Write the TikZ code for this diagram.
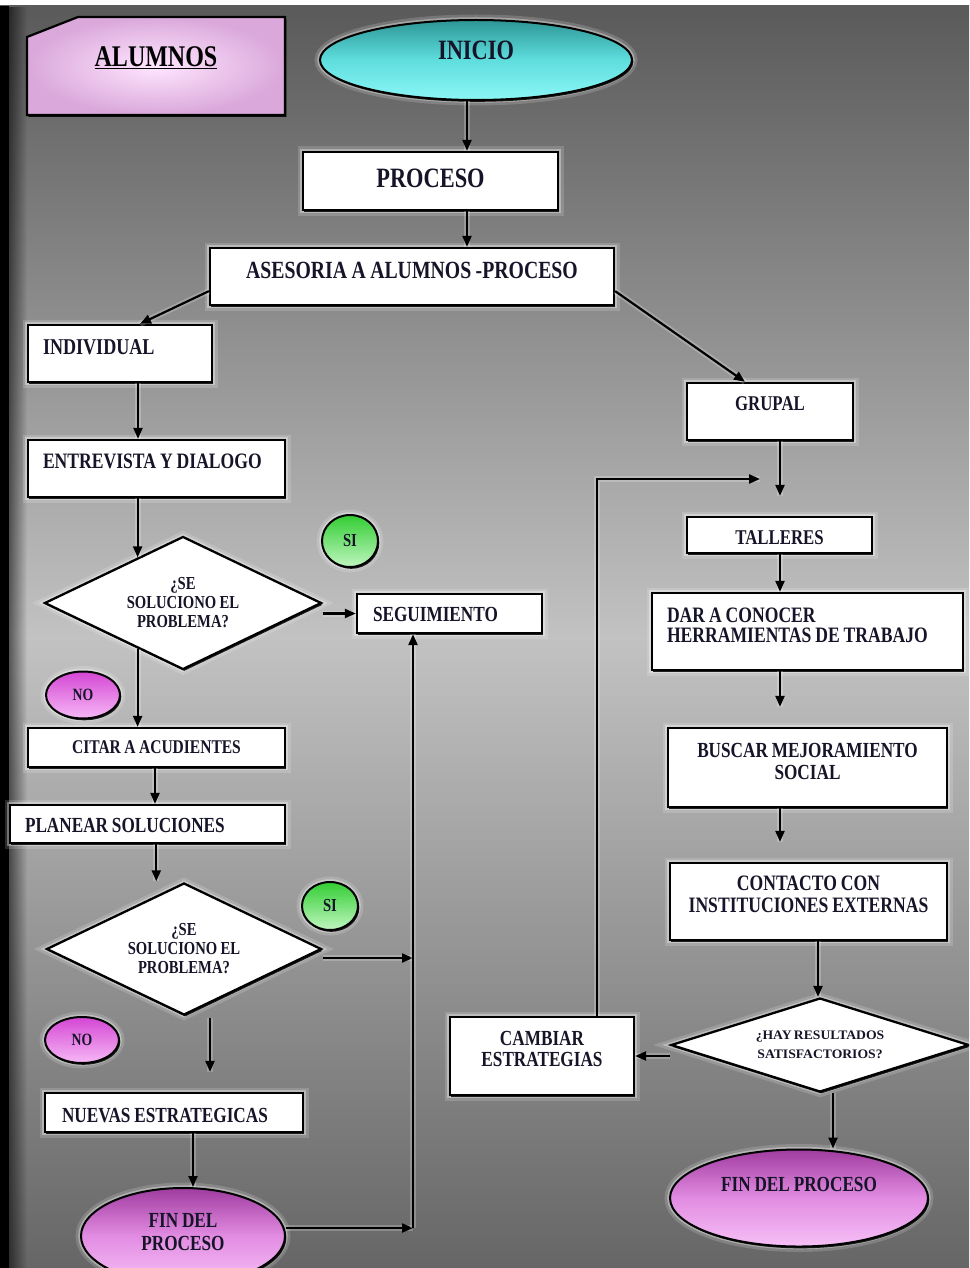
\documentclass[tikz,border=0pt]{standalone}
\usepackage{fontspec}
\setmainfont{Liberation Serif}[FakeStretch=0.8]
\newfontfamily\widefont{Liberation Serif}[FakeStretch=1.05]
\usetikzlibrary{shapes.geometric,arrows.meta,calc,shadows,fadings}

\definecolor{ink}{RGB}{22,20,40}
\definecolor{bgT}{RGB}{90,90,90}
\definecolor{bgM}{RGB}{194,194,194}
\definecolor{bgB}{RGB}{102,102,102}
\definecolor{cyT}{RGB}{45,150,150}
\definecolor{cyM}{RGB}{95,222,222}
\definecolor{cyB}{RGB}{140,246,246}
\definecolor{fnT}{RGB}{160,60,160}
\definecolor{fnM}{RGB}{226,140,226}
\definecolor{fnB}{RGB}{246,192,246}
\definecolor{noT}{RGB}{212,70,212}
\definecolor{noB}{RGB}{246,184,246}
\definecolor{siT}{RGB}{50,205,50}
\definecolor{siB}{RGB}{192,246,192}
\definecolor{alIn}{RGB}{255,230,255}
\definecolor{alOut}{RGB}{218,168,218}

% bold label type with tighter word spacing
\newcommand\fsz[2]{\fontsize{#1}{#2}\selectfont\bfseries\spaceskip=0.18em plus 0.05em minus 0.03em\relax}

\tikzset{
  glow/.style={
    preaction={draw=white, line width=11pt, opacity=0.16},
    preaction={draw=white, line width=5.5pt, opacity=0.34}},
  shadowed/.style={drop shadow={shadow xshift=1.3pt, shadow yshift=-1.8pt, opacity=0.85, fill=black}},
  boxnode/.style={rectangle, draw=black, line width=2.3pt, fill=white, glow, shadowed,
    inner ysep=0pt, text=ink},
  lbox/.style={boxnode, align=flush left},
  cbox/.style={boxnode, align=flush center, inner xsep=4pt},
  dmd/.style={diamond, draw=black, line width=2.3pt, fill=white, glow, shadowed,
    aspect=2.08, inner sep=0pt, align=center, text=ink},
  oval/.style={ellipse, draw=black, line width=2pt, glow, shadowed,
    inner sep=0pt, align=center, text=ink},
  arr/.style={-{Triangle[length=11pt,width=9pt]}, line width=2.2pt, draw=black,
    preaction={draw=white, line width=6pt, opacity=0.22, arrows=-}},
}

\begin{document}
\begin{tikzpicture}[x=1pt,y=-1pt]
\clip (0,0) rectangle (969,1268);

% backdrop
\fill[white] (0,0) rectangle (969,6);
\shade[top color=bgT, bottom color=bgB, middle color=bgM] (0,6) rectangle (969,1268);
\fill[black] (0,6) rectangle (9,1268);
\fill[black, opacity=0.55, path fading=east] (9,6) rectangle (27,1268);

% title tab
\draw[line width=2.2pt, inner color=alIn, outer color=alOut, shadowed]
  (27,37) -- (78,17) -- (285,17) -- (285,115) -- (27,115) -- cycle;
\node[font=\fsz{30}{32}, text=black, inner sep=0pt] (alum) at (156,58) {\underline{ALUMNOS}};

% start and main column
\node[oval, top color=cyT, bottom color=cyB, middle color=cyM,
  minimum width=312pt, minimum height=80pt, text height=20pt, text depth=20pt,
  font=\fsz{28}{30}] (inicio) at (476,60) {INICIO};

\node[cbox, text width=247pt, text height=35pt, text depth=23pt, font=\fsz{28}{30}]
  (proc) at (430.5,181) {PROCESO};
\node[cbox, text width=396pt, text height=30pt, text depth=27pt, font=\fsz{24.7}{26}]
  (ases) at (412,276.5) {ASESORIA A ALUMNOS -PROCESO};

% individual branch
\node[lbox, inner xsep=15pt, text width=154pt, text height=29.5pt, text depth=27.5pt, font=\fsz{22.6}{24}]
  (ind) at (120,353.5) {INDIVIDUAL};
\node[lbox, inner xsep=15pt, text width=227pt, text height=28.5pt, text depth=28.5pt, font=\fsz{22}{24}]
  (entr) at (156.5,468.5) {ENTREVISTA Y DIALOGO};
\node[dmd, minimum width=277pt, minimum height=133pt, font=\fsz{18.3}{19}]
  (d1) at (183,603) {¿SE\\SOLUCIONO EL\\PROBLEMA?};
\node[oval, top color=siT, bottom color=siB, minimum width=56pt, minimum height=52pt,
  font=\fsz{18.3}{19}] (si1) at (350,541) {SI};
\node[lbox, inner xsep=16pt, text width=153pt, text height=27pt, text depth=12pt, font=\fsz{21.5}{23}]
  (seg) at (449.5,613.5) {SEGUIMIENTO};
\node[oval, top color=noT, bottom color=noB, minimum width=74pt, minimum height=47pt,
  font=\fsz{17.2}{19}] (no1) at (83,695) {NO};
\node[cbox, text width=249pt, text height=25.5pt, text depth=13.5pt, font=\fsz{19.4}{21}]
  (citar) at (156.5,747.5) {CITAR A ACUDIENTES};
\node[lbox, inner xsep=15pt, text width=245pt, text height=27pt, text depth=11pt, font=\fsz{21.5}{23}]
  (plan) at (147.5,824) {PLANEAR SOLUCIONES};
\node[dmd, minimum width=275pt, minimum height=132pt, font=\fsz{18.3}{19}]
  (d2) at (184,949) {¿SE\\SOLUCIONO EL\\PROBLEMA?};
\node[oval, top color=siT, bottom color=siB, minimum width=56pt, minimum height=48pt,
  font=\fsz{18.3}{19}] (si2) at (330,906) {SI};
\node[oval, top color=noT, bottom color=noB, minimum width=74pt, minimum height=46pt,
  font=\fsz{17.2}{19}] (no2) at (82,1040) {NO};
\node[lbox, inner xsep=17pt, text width=224pt, text height=29pt, text depth=10pt, font=\fsz{21.5}{23}]
  (nuev) at (174,1112.5) {NUEVAS ESTRATEGICAS};
\node[oval, top color=fnT, bottom color=fnB, middle color=fnM,
  minimum width=204pt, minimum height=96pt, text height=38pt, text depth=10pt,
  font=\fsz{21.5}{23}] (fin1) at (183,1236) {FIN DEL\\PROCESO};

% group branch
\node[cbox, text width=158pt, text height=27pt, text depth=30pt, font=\fsz{21}{22}]
  (grup) at (770,411.5) {GRUPAL};
\node[cbox, text width=177pt, text height=27pt, text depth=9pt, font=\fsz{21}{22}]
  (tall) at (779.5,535) {TALLERES};
\node[lbox, inner xsep=15pt, text width=281pt, text height=29.5pt, text depth=47.5pt, font=\fsz{22}{20}]
  (dar) at (807.5,631.5) {DAR A CONOCER\\HERRAMIENTAS DE TRABAJO};
\node[cbox, text width=271pt, text height=29pt, text depth=50pt, font=\fsz{21.5}{22}]
  (busc) at (807.5,767.5) {BUSCAR MEJORAMIENTO\\SOCIAL};
\node[cbox, text width=269pt, text height=27.5pt, text depth=49.5pt, font=\fsz{22}{22}]
  (cont) at (808.5,901.5) {CONTACTO CON\\INSTITUCIONES EXTERNAS};
\node[dmd, minimum width=298pt, minimum height=94pt,
  font=\widefont\fsz{13}{19}] (d3) at (820,1045) {¿HAY RESULTADOS\\SATISFACTORIOS?};
\node[cbox, text width=176pt, text height=28pt, text depth=50pt, font=\fsz{21.5}{21}]
  (camb) at (542,1056) {CAMBIAR\\ESTRATEGIAS};
\node[oval, top color=fnT, bottom color=fnB, middle color=fnM,
  minimum width=258pt, minimum height=97pt, text height=20pt, text depth=34pt,
  font=\fsz{21.5}{23}] (fin2) at (799,1198) {FIN DEL PROCESO};

% column guides and junctions
\coordinate (colA) at (467,0);
\coordinate (colB) at (138,0);
\coordinate (colC) at (155,0);
\coordinate (colD) at (193,0);
\coordinate (colE) at (780,0);
\coordinate (colF) at (818,0);
\coordinate (colG) at (833,0);
\coordinate (d1in) at ($(d1.west)!0.675!(d1.north)$);
\coordinate (d1out) at ($(d1.west)!0.675!(d1.south)$);
\coordinate (d2in) at ($(d2.west)!0.8!(d2.north)$);
\coordinate (d2out) at ($(d2.south)+(26,2)$);
\coordinate (j2) at (413,958);
\coordinate (j3) at (413,1228);
\coordinate (loopc) at (597,479);
\coordinate (loope) at (760,479);

% connectors
\draw[arr] (inicio.south -| colA) -- (proc.north -| colA);
\draw[arr] (proc.south -| colA) -- (ases.north -| colA);
\draw[arr] ($(ases.south west)+(0,-15)$) -- ($(ind.north)+(20,0)$);
\draw[arr] ($(ases.south east)+(0,-15)$) -- ($(grup.north)+(-25,0)$);

\draw[arr] (ind.south -| colB) -- (entr.north -| colB);
\draw[arr] (entr.south -| d1in) -- (d1in);
\draw[arr] (seg.west -| d1.east) -- (seg.west);
\draw[arr] (d1out) -- (citar.north -| d1out);
\draw[arr] (citar.south -| colC) -- (plan.north -| colC);
\draw[arr, shorten >=14pt] (plan.south -| d2in) -- (d2in);
\draw[arr] (d2.east |- j2) -- (j2);
\draw[arr, shorten >=20pt] (d2out) -- (nuev.north -| d2out);
\draw[arr] (nuev.south -| colD) -- (fin1.north -| colD);
\draw[arr] (fin1.east |- j3) -- (j3);
\draw[arr] (j3) -- (seg.south -| j3);

\draw[arr, shorten >=20pt] (grup.south -| colE) -- (tall.north -| colE);
\draw[arr] (camb.north -| loopc) -- (loopc) -- (loope);
\draw[arr] (tall.south -| colE) -- (dar.north -| colE);
\draw[arr, shorten >=20pt] (dar.south -| colE) -- (busc.north -| colE);
\draw[arr, shorten >=20pt] (busc.south -| colE) -- (cont.north -| colE);
\draw[arr] (cont.south -| colF) -- (d3.north -| colF);
\draw[arr] (d3.west |- camb.east) -- (camb.east);
\draw[arr] (d3.south -| colG) -- (fin2.north -| colG);
\end{tikzpicture}
\end{document}
